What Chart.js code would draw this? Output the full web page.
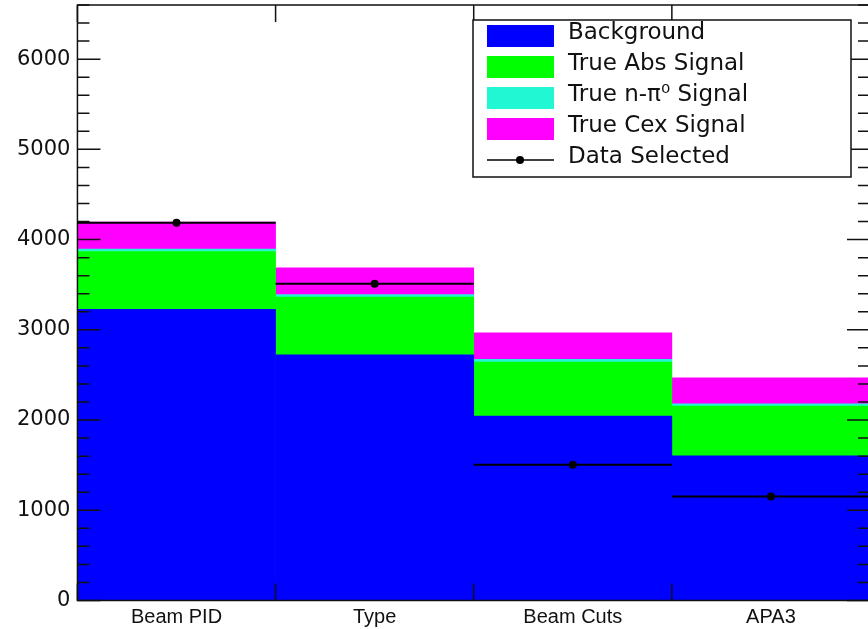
<!DOCTYPE html>
<html>
<head>
<meta charset="utf-8">
<script src="https://cdn.jsdelivr.net/npm/chart.js@4"></script>
<style>
  html, body { margin: 0; padding: 0; background: #fff; overflow: hidden; }
  #wrap { width: 874px; height: 629px; }
</style>
</head>
<body>
<div id="wrap"><canvas id="chart"></canvas></div>
<script>
// selection steps and stacked contributions (events)
const categories = ['Beam PID', 'Type', 'Beam Cuts', 'APA3'];
const background = [3226, 2724, 2043, 1604];
const absSignal = [642, 640, 599, 550];
const npi0Signal = [28, 26, 30, 26];
const cexSignal = [298, 298, 296, 289];
const dataSelected = [4188, 3511, 1504, 1152];
const yMajorTicks = [0, 1000, 2000, 3000, 4000, 5000, 6000];

const yMax = 6600;
const ink = '#111';

// ROOT style frame: inward ticks on all four sides
const framePlugin = {
	id: 'frame',
	afterDatasetsDraw(chart) {
		let ctx = chart.ctx, a = chart.chartArea;
		let x = chart.scales.x, y = chart.scales.y;
		ctx.save();
		ctx.strokeStyle = ink;
		ctx.lineWidth = 1.5;
		ctx.strokeRect(a.left, a.top, a.right - a.left, a.bottom - a.top);
		ctx.beginPath();
		for (let v = 0; v <= yMax; v += 200) {
			let py = y.getPixelForValue(v);
			let len = v % 1000 === 0 ? 23 : 12;
			ctx.moveTo(a.left, py); ctx.lineTo(a.left + len, py);
			ctx.moveTo(a.right, py); ctx.lineTo(a.right - len, py);
		}
		for (let i = 0; i <= categories.length; i++) {
			let px = x.getPixelForValue(i - 0.5);
			ctx.moveTo(px, a.bottom); ctx.lineTo(px, a.bottom - 17);
			ctx.moveTo(px, a.top); ctx.lineTo(px, a.top + 17);
		}
		ctx.stroke();
		ctx.restore();
	}
};

// horizontal bin-width error bars for the data points
const binErrPlugin = {
	id: 'binErr',
	afterDatasetsDraw(chart) {
		let ctx = chart.ctx;
		let x = chart.scales.x, y = chart.scales.y;
		ctx.save();
		ctx.strokeStyle = '#000';
		ctx.lineWidth = 2;
		ctx.beginPath();
		dataSelected.forEach((v, i) => {
			let py = y.getPixelForValue(v);
			ctx.moveTo(x.getPixelForValue(i - 0.5), py);
			ctx.lineTo(x.getPixelForValue(i + 0.5), py);
		});
		ctx.stroke();
		ctx.restore();
	}
};

// ROOT style legend box
const legendPlugin = {
	id: 'rootLegend',
	afterDraw(chart) {
		let ctx = chart.ctx;
		let bx = 473, by = 20, bw = 378, bh = 157;
		ctx.save();
		ctx.fillStyle = '#fff';
		ctx.fillRect(bx, by, bw, bh);
		ctx.strokeStyle = ink;
		ctx.lineWidth = 1.5;
		ctx.strokeRect(bx, by, bw, bh);
		ctx.font = '23px "DejaVu Sans"';
		ctx.textBaseline = 'middle';
		let rowY = [36, 67, 98, 129, 160];
		chart.data.datasets.forEach((ds, i) => {
			let cy = rowY[i];
			if (ds.type === 'line') {
				ctx.strokeStyle = '#000';
				ctx.lineWidth = 1.5;
				ctx.beginPath();
				ctx.moveTo(487, cy); ctx.lineTo(554, cy);
				ctx.stroke();
				ctx.fillStyle = '#000';
				ctx.beginPath();
				ctx.arc(520, cy, 4, 0, Math.PI * 2);
				ctx.fill();
			} else {
				ctx.fillStyle = ds.backgroundColor;
				ctx.fillRect(487, cy - 11, 67, 22);
			}
			ctx.fillStyle = ink;
			ctx.fillText(ds.label, 568, cy - 3);
		});
		ctx.restore();
	}
};

new Chart(document.getElementById('chart'), {
	type: 'bar',
	data: {
		labels: categories,
		datasets: [
			{ label: 'Background', data: background, backgroundColor: '#0000ff', stack: 'mc', order: 1 },
			{ label: 'True Abs Signal', data: absSignal, backgroundColor: '#00ff00', stack: 'mc', order: 1 },
			{ label: 'True n-π⁰ Signal', data: npi0Signal, backgroundColor: '#22f7d4', stack: 'mc', order: 1 },
			{ label: 'True Cex Signal', data: cexSignal, backgroundColor: '#ff00ff', stack: 'mc', order: 1 },
			{ type: 'line', label: 'Data Selected', data: dataSelected, showLine: false,
			  pointRadius: 4, pointBackgroundColor: '#000', pointBorderColor: '#000', pointBorderWidth: 0,
			  stack: 'data', order: 0 }
		]
	},
	options: {
		responsive: true,
		maintainAspectRatio: false,
		animation: false,
		layout: { padding: { left: 10, top: 5, right: 0, bottom: -5.5 } },
		datasets: { bar: { categoryPercentage: 1, barPercentage: 1, borderWidth: 0 } },
		plugins: {
			legend: { display: false },
			tooltip: { enabled: false }
		},
		scales: {
			x: {
				stacked: true,
				grid: { display: false, drawTicks: false },
				border: { display: false },
				afterFit: s => { s.paddingLeft = 0; s.paddingRight = 0; },
				ticks: { color: ink, font: { family: 'Liberation Sans', size: 20 }, padding: 5, maxRotation: 0 }
			},
			y: {
				stacked: true,
				min: 0,
				max: yMax,
				afterBuildTicks: scale => { scale.ticks = yMajorTicks.map(v => ({ value: v })); },
				afterFit: s => { s.paddingTop = 0; s.paddingBottom = 0; },
				grid: { display: false, drawTicks: false },
				border: { display: false },
				ticks: { color: ink, font: { family: 'DejaVu Sans', size: 21 }, padding: 7,
					callback: v => String(v) }
			}
		}
	},
	plugins: [framePlugin, binErrPlugin, legendPlugin]
});
</script>
</body>
</html>
